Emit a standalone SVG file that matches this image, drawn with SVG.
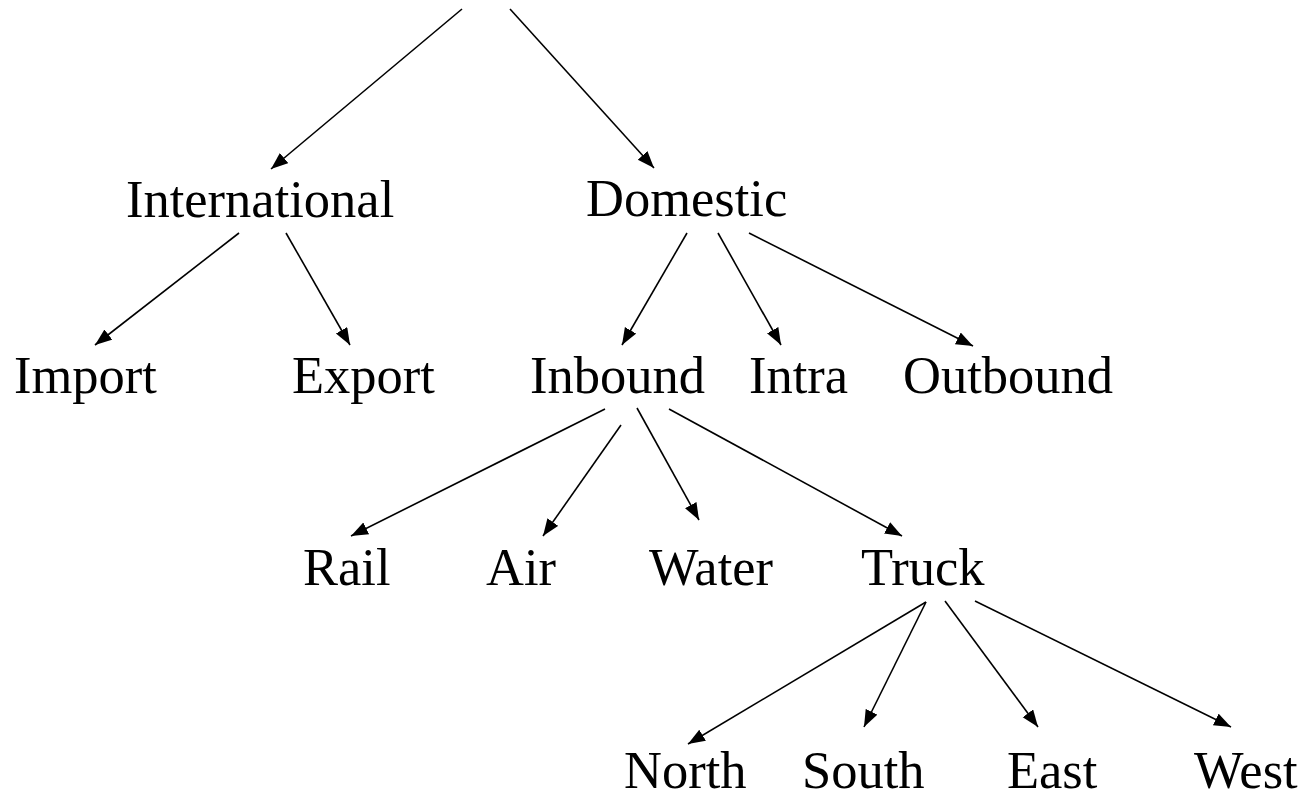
<svg xmlns="http://www.w3.org/2000/svg" width="1306" height="800" viewBox="0 0 1306 800">
<style>
.lbl{font-family:"Liberation Serif","Times New Roman",serif;font-size:52.5px;fill:#000}
.edge{stroke:#000;stroke-width:1.6;fill:none;marker-end:url(#ah)}
</style>
<defs>
<marker id="ah" markerUnits="userSpaceOnUse" markerWidth="18" markerHeight="14" refX="17" refY="6.5" orient="auto">
<path d="M0,0 L17,6.5 L0,13 z" fill="#000"/>
</marker>
</defs>
<rect width="1306" height="800" fill="#fff"/>
<g id="connectors">
<line class="edge" x1="462" y1="9" x2="271" y2="169"/>
<line class="edge" x1="510" y1="9" x2="654" y2="168"/>
<line class="edge" x1="239" y1="233" x2="95" y2="345"/>
<line class="edge" x1="286" y1="233" x2="350" y2="345"/>
<line class="edge" x1="687" y1="233" x2="622" y2="345"/>
<line class="edge" x1="718" y1="233" x2="781" y2="345"/>
<line class="edge" x1="749" y1="233" x2="973" y2="346"/>
<line class="edge" x1="605" y1="409" x2="351" y2="536"/>
<line class="edge" x1="621" y1="425" x2="543" y2="536"/>
<line class="edge" x1="637" y1="408" x2="699" y2="520"/>
<line class="edge" x1="669" y1="409" x2="902" y2="536"/>
<line class="edge" x1="926" y1="602" x2="688" y2="744"/>
<line class="edge" x1="926" y1="602" x2="864" y2="727"/>
<line class="edge" x1="945" y1="601" x2="1038" y2="727"/>
<line class="edge" x1="975" y1="601" x2="1231" y2="727"/>
</g>
<g id="international"><text class="lbl" x="126" y="217">International</text></g>
<g id="domestic"><text class="lbl" x="586" y="216">Domestic</text></g>
<g id="import"><text class="lbl" x="14" y="393">Import</text></g>
<g id="export"><text class="lbl" x="292" y="393">Export</text></g>
<g id="inbound"><text class="lbl" x="530" y="393">Inbound</text></g>
<g id="intra"><text class="lbl" x="749" y="393">Intra</text></g>
<g id="outbound"><text class="lbl" x="903" y="393">Outbound</text></g>
<g id="rail"><text class="lbl" x="303" y="585">Rail</text></g>
<g id="air"><text class="lbl" x="486" y="585">Air</text></g>
<g id="water"><text class="lbl" x="649" y="585">Water</text></g>
<g id="truck"><text class="lbl" x="861" y="585">Truck</text></g>
<g id="north"><text class="lbl" x="624" y="788">North</text></g>
<g id="south"><text class="lbl" x="802" y="788">South</text></g>
<g id="east"><text class="lbl" x="1007" y="788">East</text></g>
<g id="west"><text class="lbl" x="1194" y="788">West</text></g>
</svg>
